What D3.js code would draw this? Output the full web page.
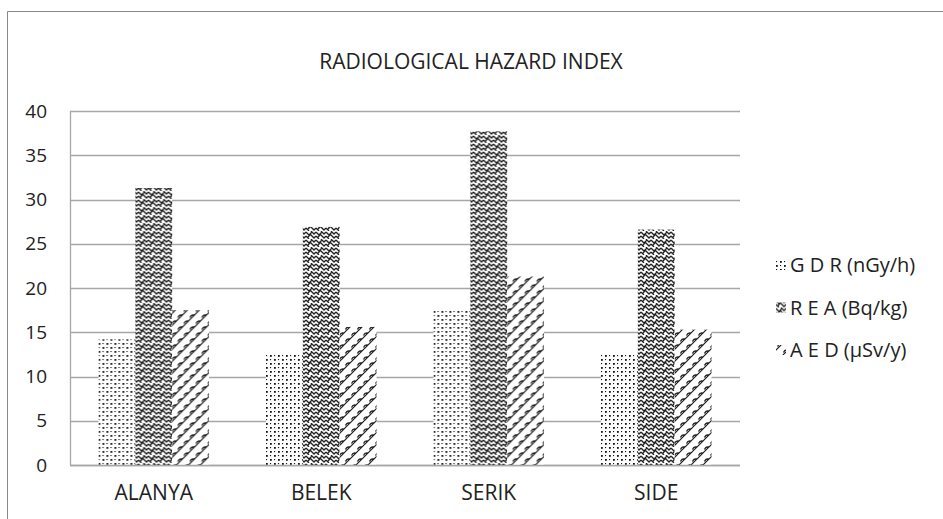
<!DOCTYPE html>
<html>
<head>
<meta charset="utf-8">
<script src="https://cdn.jsdelivr.net/npm/d3@7"></script>
<style>
  body { margin: 0; background: #fff; }
  svg text { font-family: "Open Sans", "Noto Sans", sans-serif; fill: #222; }
</style>
</head>
<body>
<svg id="chart" width="943" height="519"></svg>
<script>
// chart data
var categories = ['ALANYA', 'BELEK', 'SERIK', 'SIDE'];
var seriesNames = ['G D R (nGy/h)', 'R E A (Bq/kg)', 'A E D (\u00b5Sv/y)'];
var gdr = [14.2, 12.6, 17.6, 12.6];
var rea = [31.3, 26.9, 37.7, 26.6];
var aed = [17.5, 15.6, 21.3, 15.3];
var yTicks = [0, 5, 10, 15, 20, 25, 30, 35, 40];

var seriesValues = [gdr, rea, aed];
var patternIds = ['pDots', 'pWeave', 'pShingle'];

var svg = d3.select('#chart');
var margin = {top: 111, left: 70, right: 203, bottom: 54};
var W = 943, H = 519;
var plotW = W - margin.left - margin.right;
var plotH = H - margin.top - margin.bottom;

// patterns, roughly like the office fill patterns
var defs = svg.append('defs');

var dots = defs.append('pattern').attr('id', 'pDots')
  .attr('patternUnits', 'userSpaceOnUse').attr('width', 8).attr('height', 8);
dots.append('rect').attr('width', 8).attr('height', 8).attr('fill', '#fff');
[[0, 0, 1.8], [4, 4, 1.8], [4, 0, 1.1], [0, 4, 1.1]].forEach(function(d) {
  dots.append('rect').attr('x', d[0]).attr('y', d[1])
    .attr('width', d[2]).attr('height', d[2]).attr('fill', '#111');
});

var weave = defs.append('pattern').attr('id', 'pWeave')
  .attr('patternUnits', 'userSpaceOnUse').attr('width', 10).attr('height', 8);
weave.append('rect').attr('width', 10).attr('height', 8).attr('fill', '#fff');
weave.append('path')
  .attr('d', 'M0,1 L3,4 L6,1 M5,0 L8,3 L10,1 M0,5 L3,8 M5,4 L8,7 L10,5 M2,6 L5,3')
  .attr('stroke', '#222').attr('stroke-width', 1.3).attr('fill', 'none');

// diagonal lines with little hooks (shingle-like)
var shingle = defs.append('pattern').attr('id', 'pShingle')
  .attr('patternUnits', 'userSpaceOnUse').attr('width', 12).attr('height', 12);
shingle.append('rect').attr('width', 12).attr('height', 12).attr('fill', '#fff');
shingle.append('path')
  .attr('d', 'M0,12 L12,0 M-6,6 L6,-6 M6,18 L18,6 M6,6 Q3,5 1.5,8.5 M12,0 Q9,-1 7.5,2.5 M12,12 Q9,11 7.5,14.5 M0,0 Q-3,-1 -4.5,2.5')
  .attr('stroke', '#1a1a1a').attr('stroke-width', 1.2).attr('fill', 'none');

// outer chart border
svg.append('path')
  .attr('d', 'M7.5,519 L7.5,11.5 L943,11.5')
  .attr('fill', 'none').attr('stroke', '#888').attr('stroke-width', 1);

var g = svg.append('g').attr('transform', 'translate(' + margin.left + ',' + margin.top + ')');

var x0 = d3.scaleBand().domain(categories).range([0, plotW]).paddingInner(0.34).paddingOuter(0.17);
var x1 = d3.scaleBand().domain(d3.range(seriesNames.length)).range([0, x0.bandwidth()]);
var y = d3.scaleLinear().domain([0, 40]).range([plotH, 0]);

// gridlines
g.append('g').selectAll('line').data(yTicks).join('line')
  .attr('x1', 0).attr('x2', plotW)
  .attr('y1', function(d) { return Math.round(y(d)) + 0.5; })
  .attr('y2', function(d) { return Math.round(y(d)) + 0.5; })
  .attr('stroke', '#a6a6a6').attr('stroke-width', 1.3);

// left axis line
g.append('line').attr('x1', 0.5).attr('x2', 0.5).attr('y1', 0).attr('y2', plotH)
  .attr('stroke', '#a6a6a6').attr('stroke-width', 1.3);

// y labels
g.append('g').selectAll('text').data(yTicks).join('text')
  .attr('x', -23).attr('y', function(d) { return y(d); })
  .attr('dy', '0.35em').attr('text-anchor', 'end')
  .style('font-size', '19px')
  .text(function(d) { return d; });

// bars
var groups = g.append('g').selectAll('g').data(categories).join('g')
  .attr('transform', function(d) { return 'translate(' + x0(d) + ',0)'; });

groups.selectAll('rect').data(function(d, i) {
  return seriesValues.map(function(s, k) { return {k: k, v: s[i]}; });
}).join('rect')
  .attr('x', function(d) { return x1(d.k); })
  .attr('width', x1.bandwidth())
  .attr('y', function(d) { return y(d.v); })
  .attr('height', function(d) { return plotH - y(d.v); })
  .attr('fill', function(d) { return 'url(#' + patternIds[d.k] + ')'; });

// bottom axis line on top of bars
g.append('line').attr('x1', 0).attr('x2', plotW)
  .attr('y1', plotH + 0.5).attr('y2', plotH + 0.5)
  .attr('stroke', '#a6a6a6').attr('stroke-width', 1.3);

// category labels
g.append('g').selectAll('text').data(categories).join('text')
  .attr('x', function(d) { return x0(d) + x0.bandwidth() / 2; })
  .attr('y', plotH + 35)
  .attr('text-anchor', 'middle')
  .style('font-size', '21px')
  .text(function(d) { return d; });

// title
svg.append('text').attr('x', 471).attr('y', 69)
  .attr('text-anchor', 'middle').style('font-size', '21px')
  .text('RADIOLOGICAL HAZARD INDEX');

// legend
var legend = svg.append('g').attr('transform', 'translate(776,265)');
var item = legend.selectAll('g').data(seriesNames).join('g')
  .attr('transform', function(d, i) { return 'translate(0,' + (i * 42.5) + ')'; });
item.append('rect').attr('x', 0).attr('y', -5).attr('width', 10).attr('height', 10)
  .attr('fill', function(d, i) { return 'url(#' + patternIds[i] + ')'; });
item.append('text').attr('x', 14).attr('dy', '0.35em')
  .style('font-size', '20px')
  .text(function(d) { return d; });
</script>
</body>
</html>
